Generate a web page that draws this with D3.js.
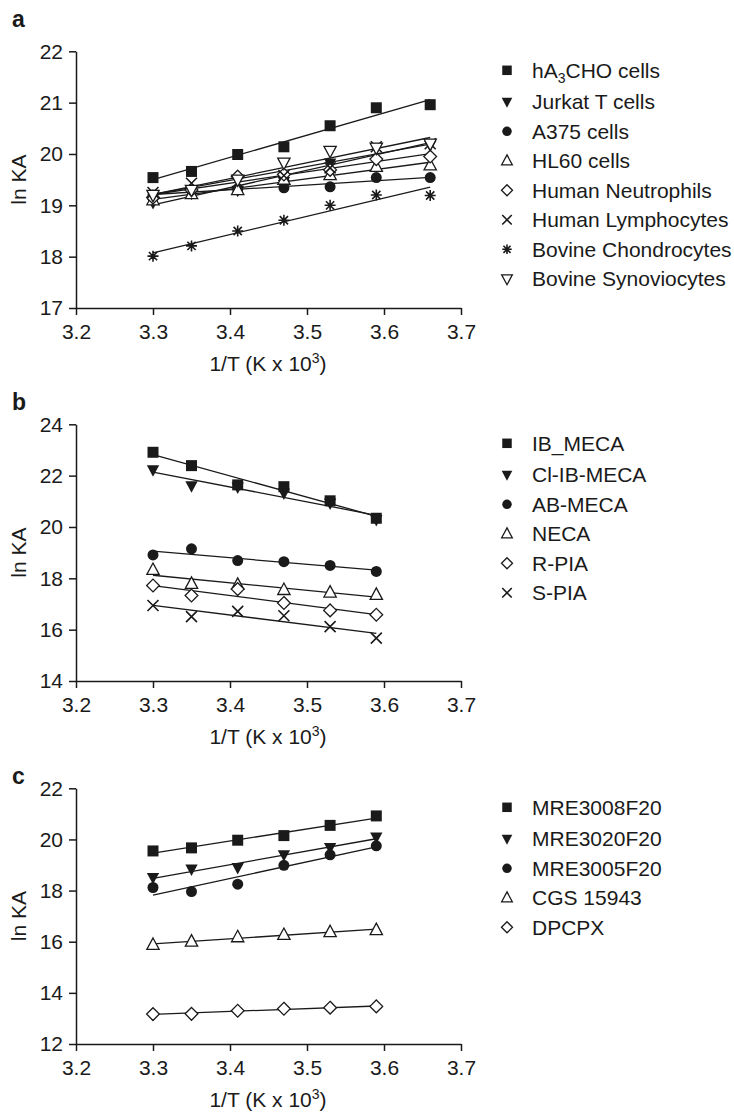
<!DOCTYPE html>
<html>
<head>
<meta charset="utf-8">
<script src="https://cdn.jsdelivr.net/npm/d3@7"></script>
<style>
  body { margin: 0; background: #fff; }
  svg { display: block; font-family: "Liberation Sans", Arial, Helvetica, sans-serif; }
</style>
</head>
<body>
<script>
// x values (1/T, K x 10^3)
var tempsA = [3.30, 3.35, 3.41, 3.47, 3.53, 3.59, 3.66];
var tempsBC = [3.30, 3.35, 3.41, 3.47, 3.53, 3.59];
var xTicks = [3.2, 3.3, 3.4, 3.5, 3.6, 3.7];

// panel a: cell types
var cellNames = ["hA3CHO cells", "Jurkat T cells", "A375 cells", "HL60 cells",
  "Human Neutrophils", "Human Lymphocytes", "Bovine Chondrocytes", "Bovine Synoviocytes"];
var cellSymbols = ["square", "triDownFill", "circle", "triUp", "diamond", "times", "asterisk", "triDownOpen"];
var hA3CHO = [19.54, 19.66, 19.99, 20.14, 20.55, 20.90, 20.96];
var jurkat = [19.05, 19.23, 19.29, 19.46, 19.82, 20.12, 20.17];
var a375 = [19.20, 19.30, 19.31, 19.34, 19.36, 19.54, 19.54];
var hl60 = [19.10, 19.22, 19.30, 19.50, 19.59, 19.75, 19.78];
var neutrophils = [19.15, 19.30, 19.56, 19.60, 19.69, 19.90, 19.95];
var lymphocytes = [19.25, 19.43, 19.45, 19.58, 19.73, 20.14, 20.20];
var chondrocytes = [18.01, 18.21, 18.50, 18.71, 19.00, 19.20, 19.19];
var synoviocytes = [19.20, 19.30, 19.50, 19.83, 20.06, 20.12, 20.20];
var yTicksA = [17, 18, 19, 20, 21, 22];

// panel b: agonists
var agonistNames = ["IB_MECA", "Cl-IB-MECA", "AB-MECA", "NECA", "R-PIA", "S-PIA"];
var agonistSymbols = ["square", "triDownFill", "circle", "triUp", "diamond", "times"];
var ibMeca = [22.91, 22.39, 21.64, 21.57, 21.02, 20.34];
var clIbMeca = [22.22, 21.60, 21.55, 21.32, 20.93, 20.28];
var abMeca = [18.91, 19.15, 18.69, 18.65, 18.50, 18.27];
var neca = [18.33, 17.79, 17.75, 17.55, 17.45, 17.36];
var rPia = [17.72, 17.33, 17.58, 17.04, 16.75, 16.58];
var sPia = [16.94, 16.51, 16.71, 16.54, 16.12, 15.67];
var yTicksB = [14, 16, 18, 20, 22, 24];

// panel c: antagonists
var antagonistNames = ["MRE3008F20", "MRE3020F20", "MRE3005F20", "CGS 15943", "DPCPX"];
var antagonistSymbols = ["square", "triDownFill", "circle", "triUp", "diamond"];
var mre3008 = [19.55, 19.67, 19.97, 20.15, 20.55, 20.92];
var mre3020 = [18.51, 18.84, 18.90, 19.40, 19.68, 20.09];
var mre3005 = [18.12, 17.96, 18.25, 18.99, 19.40, 19.75];
var cgs15943 = [15.88, 16.01, 16.18, 16.27, 16.38, 16.46];
var dpcpx = [13.17, 13.18, 13.30, 13.38, 13.42, 13.47];
var yTicksC = [12, 14, 16, 18, 20, 22];

var ink = "#1a1a1a";
var svg = d3.select("body").append("svg").attr("width", 734).attr("height", 1112);

var x = d3.scaleLinear().domain([3.2, 3.7]).range([76, 461]);

function symbolPath(type, s) {
  var h = s / 2;
  switch (type) {
    case "square": return "M" + -h + "," + -h + "h" + s + "v" + s + "h" + -s + "Z";
    case "circle": return d3.symbol(d3.symbolCircle, Math.PI * h * h)();
    case "triUp": return "M0," + (-0.62 * s) + "L" + (0.56 * s) + "," + (0.42 * s) + "L" + (-0.56 * s) + "," + (0.42 * s) + "Z";
    case "triDownFill":
    case "triDownOpen": return "M0," + (0.62 * s) + "L" + (0.56 * s) + "," + (-0.42 * s) + "L" + (-0.56 * s) + "," + (-0.42 * s) + "Z";
    case "diamond": return "M0," + (-0.58 * s) + "L" + (0.58 * s) + ",0L0," + (0.58 * s) + "L" + (-0.58 * s) + ",0Z";
    case "times": return "M" + -h + "," + -h + "L" + h + "," + h + "M" + h + "," + -h + "L" + -h + "," + h;
    case "asterisk":
      var d = h * 0.75;
      return "M0," + -h + "V" + h + "M" + -h + ",0H" + h + "M" + -d + "," + -d + "L" + d + "," + d + "M" + d + "," + -d + "L" + -d + "," + d;
  }
}

function styleSymbol(sel, type) {
  var filled = type === "square" || type === "circle" || type === "triDownFill";
  var strokeOnly = type === "times" || type === "asterisk";
  sel.attr("fill", filled ? ink : (strokeOnly ? "none" : "#fff"))
    .attr("stroke", filled ? "none" : ink)
    .attr("stroke-width", strokeOnly ? 1.6 : 1.3);
}

function fitLine(xs, ys) {
  var mx = d3.mean(xs), my = d3.mean(ys);
  var num = 0, den = 0;
  xs.forEach(function(v, i) { num += (v - mx) * (ys[i] - my); den += (v - mx) * (v - mx); });
  var slope = num / den;
  var x0 = xs[0], x1 = xs[xs.length - 1];
  return [[x0, my + slope * (x0 - mx)], [x1, my + slope * (x1 - mx)]];
}

function drawPanel(p) {
  var y = d3.scaleLinear().domain(p.yDomain).range([p.bottom, p.top]);
  var g = svg.append("g");

  // axes
  var xAxis = g.append("g").attr("transform", "translate(0," + p.bottom + ")")
    .call(d3.axisBottom(x).tickValues(xTicks).tickFormat(d3.format(".1f")).tickSize(7).tickSizeOuter(0).tickPadding(9));
  var yAxis = g.append("g").attr("transform", "translate(76,0)")
    .call(d3.axisLeft(y).tickValues(p.yTicks).tickFormat(d3.format("d")).tickSize(7).tickSizeOuter(0).tickPadding(6));
  [xAxis, yAxis].forEach(function(a) {
    a.attr("font-size", null).attr("font-family", null);
    a.select(".domain").attr("stroke", ink).attr("stroke-width", 1.5);
    a.selectAll(".tick line").attr("stroke", ink).attr("stroke-width", 1.5);
    a.selectAll(".tick text").attr("fill", ink).style("font-size", "21px");
  });

  // axis titles
  var xl = g.append("text").attr("x", 268).attr("y", p.bottom + 63)
    .attr("text-anchor", "middle").attr("fill", ink).style("font-size", "21px");
  xl.append("tspan").text("1/T (K x 10");
  xl.append("tspan").attr("dy", -8).style("font-size", "14px").text("3");
  xl.append("tspan").attr("dy", 8).text(")");

  g.append("text").attr("transform", "translate(26," + ((p.top + p.bottom) / 2) + ") rotate(-90)")
    .attr("text-anchor", "middle").attr("fill", ink).style("font-size", "21px").text("ln KA");

  g.append("text").attr("x", 12).attr("y", p.letterY).attr("fill", ink)
    .style("font-size", "23px").style("font-weight", "bold").text(p.letter);

  // regression lines
  g.append("g").selectAll("line")
    .data(p.values.map(function(v) { return fitLine(p.xs, v); }))
    .enter().append("line")
    .attr("x1", function(d) { return x(d[0][0]); })
    .attr("y1", function(d) { return y(d[0][1]); })
    .attr("x2", function(d) { return x(d[1][0]); })
    .attr("y2", function(d) { return y(d[1][1]); })
    .attr("stroke", ink).attr("stroke-width", 1.3);

  // markers
  p.values.forEach(function(vals, si) {
    var type = p.symbols[si];
    g.append("g").selectAll("path")
      .data(vals.map(function(v, i) { return [p.xs[i], v]; }))
      .enter().append("path")
      .attr("transform", function(d) { return "translate(" + x(d[0]) + "," + y(d[1]) + ")"; })
      .attr("d", symbolPath(type, 11))
      .call(styleSymbol, type);
  });

  // legend
  var leg = g.append("g").selectAll("g")
    .data(p.names)
    .enter().append("g")
    .attr("transform", function(d, i) {
      var ly = i === 0 ? p.top + 19 : p.top + 50.5 + 29.5 * (i - 1);
      return "translate(507," + ly + ")";
    });
  leg.append("path")
    .attr("d", function(d, i) { return symbolPath(p.symbols[i], 9.5); })
    .each(function(d, i) { d3.select(this).call(styleSymbol, p.symbols[i]); });
  leg.append("text").attr("x", 25).attr("dy", "0.36em").attr("fill", ink).style("font-size", "21px")
    .each(function(d) {
      var t = d3.select(this);
      if (d === "hA3CHO cells") {
        t.append("tspan").text("hA");
        t.append("tspan").attr("dy", 5).style("font-size", "14px").text("3");
        t.append("tspan").attr("dy", -5).text("CHO cells");
      } else {
        t.text(d);
      }
    });
}

drawPanel({
  letter: "a", letterY: 27, top: 51.3, bottom: 308, yDomain: [17, 22], yTicks: yTicksA,
  xs: tempsA, names: cellNames, symbols: cellSymbols,
  values: [hA3CHO, jurkat, a375, hl60, neutrophils, lymphocytes, chondrocytes, synoviocytes]
});
drawPanel({
  letter: "b", letterY: 410, top: 424.3, bottom: 681, yDomain: [14, 24], yTicks: yTicksB,
  xs: tempsBC, names: agonistNames, symbols: agonistSymbols,
  values: [ibMeca, clIbMeca, abMeca, neca, rPia, sPia]
});
drawPanel({
  letter: "c", letterY: 784, top: 788.3, bottom: 1044, yDomain: [12, 22], yTicks: yTicksC,
  xs: tempsBC, names: antagonistNames, symbols: antagonistSymbols,
  values: [mre3008, mre3020, mre3005, cgs15943, dpcpx]
});
</script>
</body>
</html>
